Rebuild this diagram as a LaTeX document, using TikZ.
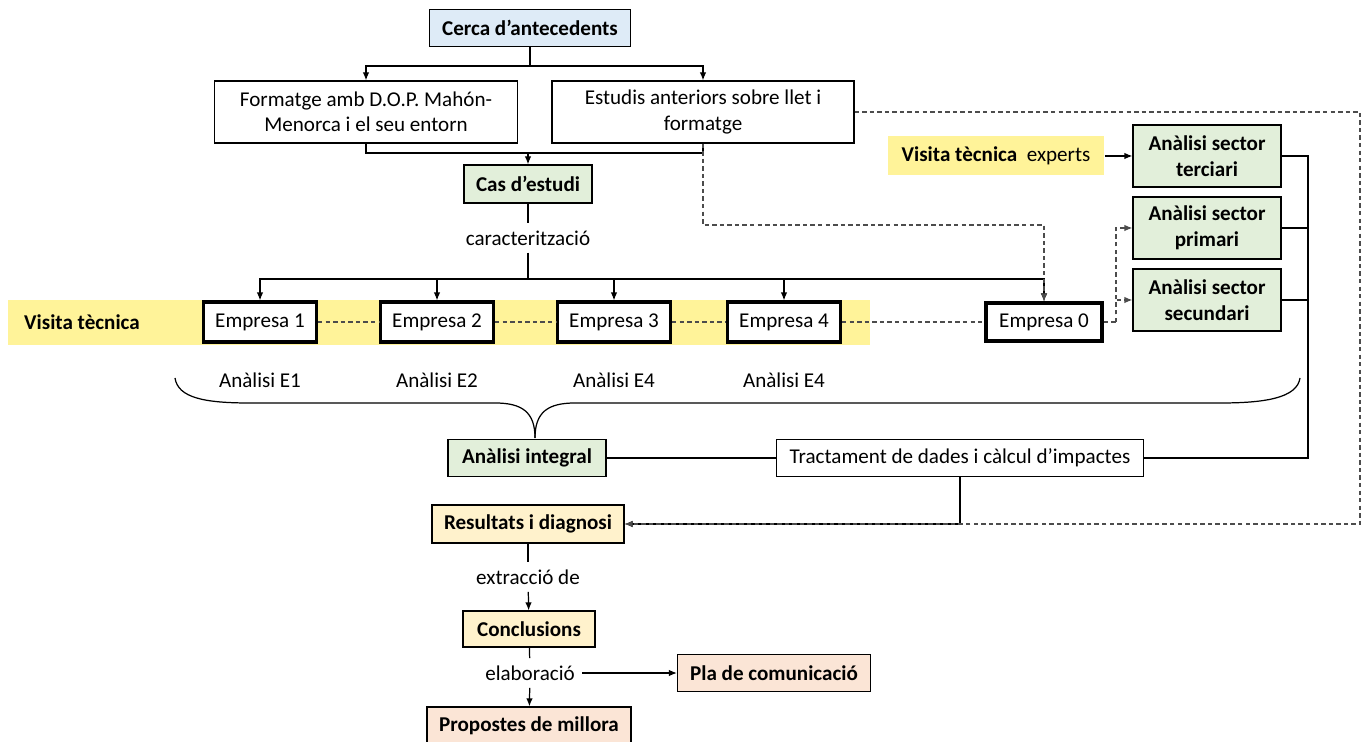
\documentclass[tikz,border=0pt]{standalone}
\usepackage{fontspec}
\setmainfont{Carlito}
\usetikzlibrary{arrows.meta}
\definecolor{cercablue}{RGB}{222,235,247}
\definecolor{casgreen}{RGB}{226,239,218}
\definecolor{resyellow}{RGB}{255,242,204}
\definecolor{plasalmon}{RGB}{251,229,214}
\definecolor{bandyellow}{RGB}{255,243,153}

\begin{document}
\begin{tikzpicture}[x=0.02cm, y=-0.02cm,
	every node/.style={font=\fontsize{12}{14.5}\selectfont},
	>={Latex[length=1.6mm,width=1.3mm]},
	fbold/.style={font=\fontsize{12}{14.5}\selectfont\bfseries},
	box/.style={draw, line width=0.7pt, inner sep=2pt, align=center},
	empbox/.style={draw, fill=white, line width=1.8pt, minimum width=2.26cm, minimum height=0.8cm},
	sectorbox/.style={box, fbold, fill=casgreen, minimum width=2.96cm, minimum height=1.24cm},
	lbl/.style={inner sep=4pt},
	conn/.style={line width=0.7pt},
	thickconn/.style={line width=1.1pt},
	dashline/.style={line width=0.7pt, dash pattern=on 2.5pt off 1.8pt, black!70}]
	\useasboundingbox (0,0) rectangle (1368,742);
	% franja de visites
	\fill[bandyellow] (8,300) rectangle (870,345);
	\node[fbold, anchor=west] (visita) at (18,322) {Visita tècnica};

	\node[box, fbold, fill=cercablue, minimum width=4.02cm, minimum height=0.74cm] (cerca) at (530,28) {Cerca d’antecedents};
	\node[box, minimum width=6.06cm, minimum height=1.24cm] (formatge) at (366,112) {Formatge amb D.O.P. Mahón-\\Menorca i el seu entorn};
	\node[box, minimum width=6.04cm, minimum height=1.24cm] (estudis) at (703,112) {Estudis anteriors sobre llet i\\formatge};
	\node[box, fbold, fill=casgreen, minimum width=2.56cm, minimum height=0.76cm] (cas) at (528,184) {Cas d’estudi};
	\node[lbl] (caract) at (528,238) {caracterització};

	\foreach \n/\x in {1/260, 2/437, 3/614, 4/784}
		\node[empbox] (emp\n) at (\x,322) {Empresa \n};
	\node[empbox, minimum width=2.32cm, minimum height=0.76cm] (emp0) at (1044,322) {Empresa 0};

	\node[sectorbox] (terciari) at (1207,156) {Anàlisi sector\\terciari};
	\node[sectorbox] (primari) at (1207,228) {Anàlisi sector\\primari};
	\node[sectorbox] (secundari) at (1207,300) {Anàlisi sector\\secundari};
	\node[fill=bandyellow, minimum width=4.34cm, minimum height=0.78cm] (experts) at (996,156) {\textbf{Visita tècnica}\ \ experts};

	\foreach \n/\x/\t in {1/260/E1, 2/437/E2, 3/614/E4, 4/784/E4}
		\node[lbl] (an\n) at (\x,380) {Anàlisi \t};

	\node[box, fbold, fill=casgreen, minimum width=3.16cm, minimum height=0.74cm] (integral) at (527,458) {Anàlisi integral};
	\node[box, minimum width=7.34cm, minimum height=0.74cm] (tractament) at (960,458) {Tractament de dades i càlcul d’impactes};
	\node[box, fbold, fill=resyellow, minimum width=3.84cm, minimum height=0.76cm] (resultats) at (528,524) {Resultats i diagnosi};
	\node[lbl] (extraccio) at (528,577) {extracció de};
	\node[box, fbold, fill=resyellow, minimum width=2.64cm, minimum height=0.72cm] (conclusions) at (529,629) {Conclusions};
	\node[lbl] (elaboracio) at (530,673) {elaboració};
	\node[box, fbold, fill=plasalmon, minimum width=3.86cm, minimum height=0.74cm] (pla) at (774,673) {Pla de comunicació};
	\node[box, fbold, fill=plasalmon, minimum width=4.08cm, minimum height=0.76cm] (propostes) at (529,726) {Propostes de millora};

	% connexions
	\coordinate (split) at (530,66);
	\draw[conn] (cerca) -- (split);
	\draw[conn,->] (split) -| (formatge);
	\draw[conn,->] (split) -| (estudis);
	\coordinate (join) at (528,153);
	\draw[conn] (formatge) |- (join);
	\draw[conn] (estudis) |- (join);
	\draw[conn,->] (join) -- (cas);
	\draw[conn] (cas) -- (caract);
	\coordinate (bus) at (528,279);
	\draw[conn] (caract) -- (bus);
	\foreach \n in {1,...,4,0}
		\draw[conn,->] (bus) -| (emp\n);
	\coordinate (dturn) at (1044,225);
	\draw[dashline,->] (estudis) |- (dturn) -- (emp0);
	\foreach \a/\b in {1/2, 2/3, 3/4, 4/0}
		\draw[dashline] (emp\a) -- (emp\b);
	\coordinate (fork) at (1116,322);
	\draw[dashline] (emp0) -- (fork);
	\draw[dashline,->] (fork) |- (primari);
	\draw[dashline,->] (fork) |- (secundari);
	\draw[conn,->] (experts) -- (terciari);

	\coordinate (rbus) at (1308,458);
	\draw[thickconn] (terciari) -| (rbus) -- (tractament);
	\draw[thickconn] (primari) -- (primari -| rbus);
	\draw[thickconn] (secundari) -- (secundari -| rbus);

	% clau
	\draw[conn] (175,378) .. controls (178,398) and (205,403) .. (250,403) -- (495,403) .. controls (522,403) and (535,412) .. (535,438);
	\draw[conn] (535,438) .. controls (535,412) and (548,403) .. (575,403) -- (1220,403) .. controls (1265,403) and (1297,398) .. (1300,378);

	\draw[conn] (integral) -- (tractament);
	\draw[conn,->] (tractament) |- (resultats);
	\coordinate (rdash) at (1360,524);
	\draw[dashline,->] (estudis) -| (rdash) -- (resultats);

	\draw[conn] (resultats) -- (extraccio);
	\draw[conn,->] (extraccio) -- (conclusions);
	\draw[conn] (conclusions) -- (elaboracio);
	\draw[conn,->] (elaboracio) -- (propostes);
	\draw[conn,->] (elaboracio) -- (pla);
\end{tikzpicture}
\end{document}
